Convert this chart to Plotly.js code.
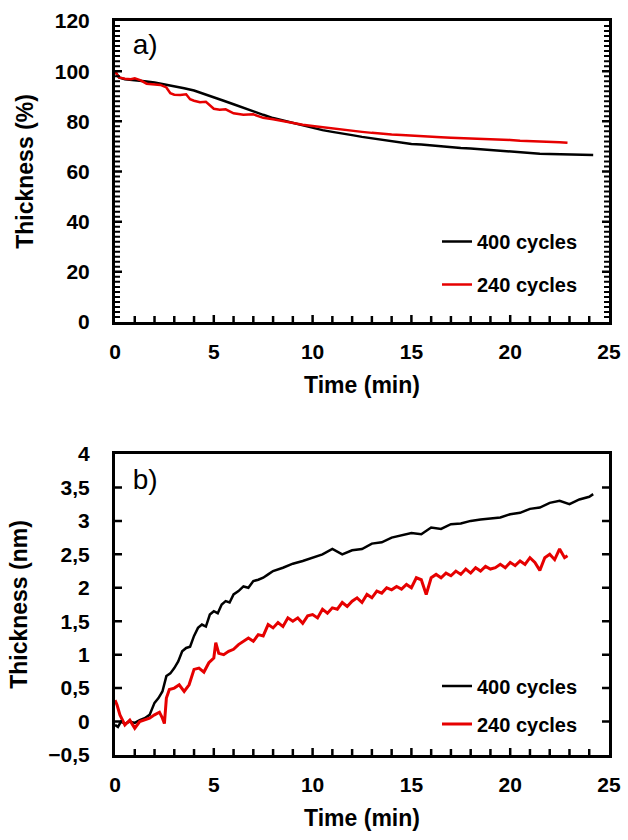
<!DOCTYPE html>
<html><head><meta charset="utf-8">
<script src="https://cdn.plot.ly/plotly-3.0.1.min.js"></script>
<style>
html,body{margin:0;padding:0;background:#fff}
.js-plotly-plot .plotly .crisp, .js-plotly-plot .plotly path.crisp{shape-rendering:geometricPrecision !important}
#veil{position:absolute;left:0;top:0;width:628px;height:840px;background:rgba(255,255,255,0);pointer-events:none}
</style>
</head><body><div id="chart" style="width:628px;height:840px"></div><div id="veil"></div>
<script>
// ---- Panel a) Thickness (%) vs time ----
const timeA400 = [0,0.2,0.5,1,1.5,2,2.5,3,3.5,4,4.5,5,5.5,6,6.5,7,7.5,8,8.5,9,9.5,10,10.5,11,11.5,12,12.5,13,13.5,14,14.5,15,15.5,16,16.5,17,17.5,18,18.5,19,19.5,20,20.5,21,21.5,22,22.5,23,23.5,24,24.2];
const thickA400 = [100,97.5,96.8,96.5,96,95.5,94.8,94,93.2,92.3,91,89.8,88.2,86.8,85.3,84,82.6,81.3,80.3,79.2,78.3,77.3,76.5,75.8,75,74.5,73.8,73.2,72.6,72,71.5,71,70.8,70.4,70.1,69.8,69.4,69.2,68.9,68.6,68.2,67.9,67.6,67.3,67.1,67,66.9,66.8,66.7,66.5,66.6];
const timeA240 = [0,0.2,0.5,0.8,1,1.3,1.6,2,2.3,2.6,2.8,3,3.3,3.6,3.8,4,4.3,4.6,5,5.3,5.6,6,6.5,7,7.5,8,8.5,9,9.5,10,10.5,11,11.5,12,12.5,13,13.5,14,14.5,15,15.5,16,16.5,17,17.5,18,18.5,19,19.5,20,20.5,21,21.5,22,22.5,22.9];
const thickA240 = [100,97.5,97,96.8,97.2,96.3,95,94.6,94.5,93.5,91.2,90.6,90.5,90.8,88.8,88.2,87.6,87.8,85,84.6,84.8,83.2,82.6,82.8,81.4,80.8,80,79.3,78.6,78.1,77.6,77.2,76.5,76.1,75.8,75.4,75,74.8,74.6,74.3,74.2,73.8,73.7,73.5,73.4,73.2,73,72.9,72.7,72.6,72.3,72.2,72.1,71.8,71.7,71.5];

// ---- Panel b) Thickness (nm) vs time ----
const timeB400 = [0,0.15,0.3,0.5,0.75,1,1.25,1.5,1.75,2,2.2,2.4,2.6,2.8,3,3.2,3.4,3.6,3.8,4,4.2,4.4,4.6,4.8,5,5.2,5.4,5.6,5.8,6,6.25,6.5,6.75,7,7.25,7.5,7.75,8,8.5,9,9.5,10,10.5,11,11.5,12,12.5,13,13.5,14,14.5,15,15.5,16,16.5,17,17.5,18,18.5,19,19.5,20,20.5,21,21.5,22,22.5,23,23.5,24,24.2];
const thickB400 = [-0.05,-0.08,0.0,-0.03,0.0,-0.02,0.02,0.05,0.1,0.28,0.35,0.45,0.68,0.72,0.8,0.9,1.05,1.1,1.12,1.28,1.4,1.45,1.42,1.6,1.65,1.62,1.75,1.8,1.78,1.9,1.95,2.02,2.0,2.1,2.12,2.15,2.2,2.25,2.3,2.36,2.4,2.45,2.5,2.58,2.5,2.56,2.58,2.66,2.68,2.75,2.78,2.82,2.8,2.9,2.88,2.95,2.96,3.0,3.02,3.03,3.05,3.1,3.12,3.18,3.2,3.27,3.3,3.25,3.32,3.36,3.4];
const timeB240 = [0,0.1,0.25,0.4,0.5,0.75,1,1.25,1.5,1.75,2,2.25,2.4,2.5,2.6,2.75,3,3.25,3.5,3.75,4,4.25,4.5,4.75,5,5.1,5.25,5.5,5.75,6,6.25,6.5,6.75,7,7.25,7.5,7.75,8,8.25,8.5,8.75,9,9.25,9.5,9.75,10,10.25,10.5,10.75,11,11.25,11.5,11.75,12,12.25,12.5,12.75,13,13.25,13.5,13.75,14,14.25,14.5,14.75,15,15.25,15.5,15.75,16,16.25,16.5,16.75,17,17.25,17.5,17.75,18,18.25,18.5,18.75,19,19.25,19.5,19.75,20,20.25,20.5,20.75,21,21.25,21.5,21.75,22,22.25,22.5,22.75,22.9];
const thickB240 = [0.32,0.25,0.1,0.0,-0.05,0.02,-0.1,0.0,0.03,0.05,0.1,0.14,0.05,-0.03,0.35,0.48,0.5,0.55,0.45,0.55,0.78,0.8,0.74,0.88,0.95,1.18,1.02,1.0,1.05,1.08,1.15,1.2,1.25,1.2,1.3,1.28,1.45,1.4,1.48,1.42,1.55,1.5,1.55,1.47,1.58,1.6,1.55,1.68,1.62,1.7,1.68,1.78,1.72,1.8,1.85,1.78,1.9,1.85,1.95,1.92,2.0,1.97,2.02,1.98,2.05,2.0,2.15,2.12,1.9,2.15,2.2,2.15,2.22,2.18,2.25,2.2,2.28,2.22,2.3,2.25,2.32,2.28,2.3,2.35,2.3,2.38,2.33,2.4,2.35,2.45,2.38,2.26,2.45,2.5,2.42,2.58,2.45,2.48];

const seriesNames = ['400 cycles', '240 cycles'];
const seriesColors = ['#000000', '#e60000'];
const panelLabels = ['a)', 'b)'];
const xTitle = 'Time (min)';
const yTitles = ['Thickness (%)', 'Thickness (nm)'];

// panel-label anchor points (in each panel's own axis units)
const labelPosA = {x: 0.9, y: 109.5};
const labelPosB = {x: 0.9, y: 3.58};

const W = 628, H = 840;
const px = x => x / W;
const py = y => 1 - y / H;

const FONT = 'Liberation Sans, Arial, sans-serif';
const tickFont = {family: FONT, size: 21, color: '#000', weight: 700};
const titleFont = {family: FONT, size: 23, color: '#000', weight: 700};
const legFont = {family: FONT, size: 20, color: '#000', weight: 700};
const panelFont = {family: FONT, size: 28, color: '#000'};

const traces = [
  {x: timeA400, y: thickA400, xaxis: 'x', yaxis: 'y', mode: 'lines', name: seriesNames[0], legend: 'legend', legendgroup: 'a1', line: {color: seriesColors[0], width: 2.5}},
  {x: timeA240, y: thickA240, xaxis: 'x', yaxis: 'y', mode: 'lines', name: seriesNames[1], legend: 'legend', legendgroup: 'a2', line: {color: seriesColors[1], width: 2.5}},
  {x: timeB400, y: thickB400, xaxis: 'x2', yaxis: 'y2', mode: 'lines', name: seriesNames[0], legend: 'legend2', legendgroup: 'b1', line: {color: seriesColors[0], width: 2.5}},
  {x: timeB240, y: thickB240, xaxis: 'x2', yaxis: 'y2', mode: 'lines', name: seriesNames[1], legend: 'legend2', legendgroup: 'b2', line: {color: seriesColors[1], width: 3}},
  {x: [labelPosA.x], y: [labelPosA.y], xaxis: 'x', yaxis: 'y', mode: 'text', text: [panelLabels[0]], textposition: 'middle right', textfont: panelFont, showlegend: false, hoverinfo: 'skip', cliponaxis: false},
  {x: [labelPosB.x], y: [labelPosB.y], xaxis: 'x2', yaxis: 'y2', mode: 'text', text: [panelLabels[1]], textposition: 'middle right', textfont: panelFont, showlegend: false, hoverinfo: 'skip', cliponaxis: false}
];

const xBase = {
  range: [0, 25], dtick: 5, tick0: 0, ticks: 'inside', ticklen: 7, tickwidth: 2.5, tickcolor: '#000',
  showline: true, linewidth: 3, linecolor: '#000', mirror: true, showgrid: false, zeroline: false,
  tickfont: tickFont, automargin: false, ticklabelstandoff: 9,
  minor: {dtick: 1, ticks: 'inside', ticklen: 6, tickwidth: 2.5, tickcolor: '#000', showgrid: false},
  title: {text: xTitle, font: titleFont, standoff: 15}
};
const yBase = {
  ticks: 'inside', ticklen: 7, tickwidth: 2.5, tickcolor: '#000',
  showline: true, linewidth: 3, linecolor: '#000', mirror: 'allticks', showgrid: false, zeroline: false,
  tickfont: tickFont, automargin: false, ticklabelstandoff: 18
};
const legBase = {
  xanchor: 'left', yanchor: 'middle', bgcolor: 'rgba(0,0,0,0)', borderwidth: 0,
  font: legFont, traceorder: 'grouped', itemclick: false, itemdoubleclick: false
};

const layout = {
  width: W, height: H,
  margin: {l: 0, r: 0, t: 0, b: 0},
  showlegend: true,
  separators: ',.',
  legend: Object.assign({}, legBase, {x: px(437), y: py(263), tracegroupgap: 14}),
  legend2: Object.assign({}, legBase, {x: px(437), y: py(705), tracegroupgap: 9}),
  xaxis: Object.assign({}, xBase, {domain: [px(115), px(609)], anchor: 'y'}),
  yaxis: Object.assign({}, yBase, {domain: [py(322), py(21)], anchor: 'x', range: [0, 120], dtick: 20,
    minor: {dtick: 2, ticks: 'inside', ticklen: 5, tickwidth: 2, tickcolor: '#000', showgrid: false},
    title: {text: yTitles[0], font: titleFont, standoff: 15}}),
  xaxis2: Object.assign({}, xBase, {domain: [px(115), px(609)], anchor: 'y2'}),
  yaxis2: Object.assign({}, yBase, {domain: [py(755), py(454)], anchor: 'x2', range: [-0.5, 4], dtick: 0.5, tick0: 0,
    title: {text: yTitles[1], font: titleFont, standoff: 15}})
};

Plotly.newPlot('chart', traces, layout, {displayModeBar: false, staticPlot: true}).then(function (gd) {
  gd.querySelectorAll('path.crisp').forEach(function (p) { p.style.shapeRendering = 'geometricPrecision'; });
  document.body.setAttribute('data-ready', '1');
});
</script>
</body></html>
